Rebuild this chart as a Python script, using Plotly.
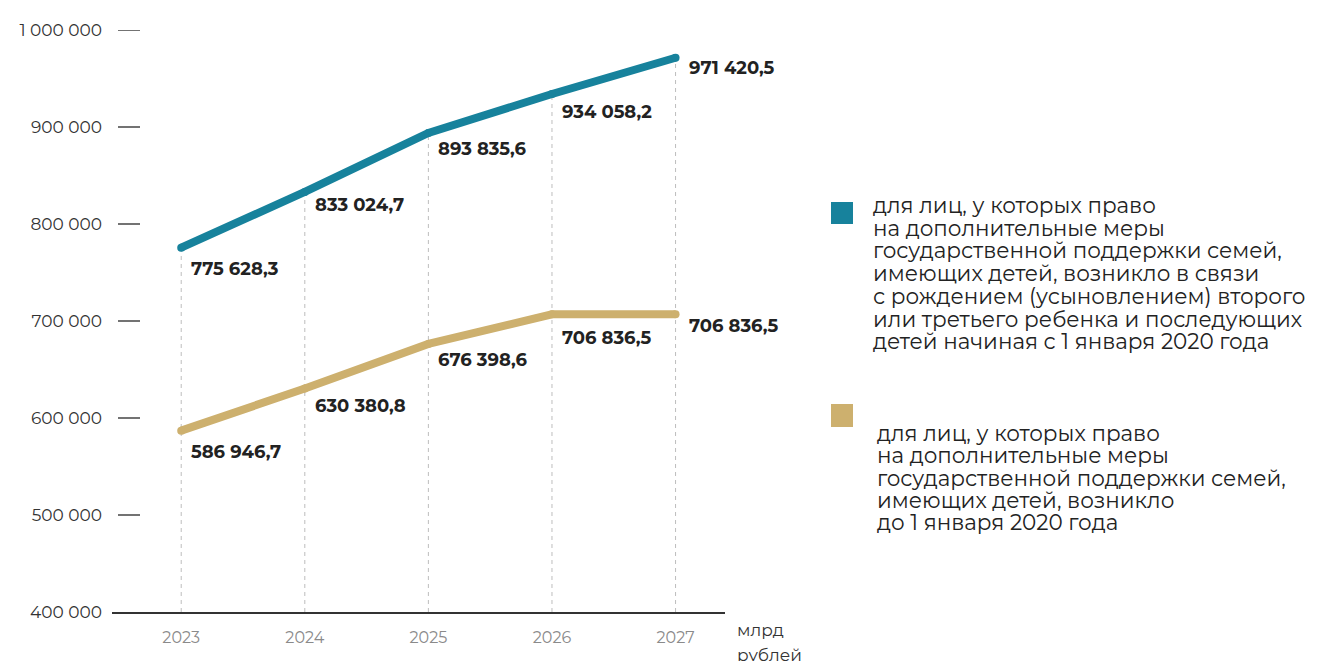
import plotly.graph_objects as go

years = [2023, 2024, 2025, 2026, 2027]
after_2020 = [775628.3, 833024.7, 893835.6, 934058.2, 971420.5]
before_2020 = [586946.7, 630380.8, 676398.6, 706836.5, 706836.5]
y_ticks = [400000, 500000, 600000, 700000, 800000, 900000, 1000000]
y_tick_labels = ["400 000", "500 000", "600 000", "700 000", "800 000", "900 000", "1 000 000"]
legend_after = ["для лиц, у которых право",
                "на дополнительные меры",
                "государственной поддержки семей,",
                "имеющих детей, возникло в связи",
                "с рождением (усыновлением) второго",
                "или третьего ребенка и последующих",
                "детей начиная с 1 января 2020 года"]
legend_before = ["для лиц, у которых право",
                 "на дополнительные меры",
                 "государственной поддержки семей,",
                 "имеющих детей, возникло",
                 "до 1 января 2020 года"]
unit_label = ["млрд", "рублей"]

BLUE = "#17829c"
GOLD = "#cdb06e"
FONT = "Montserrat, 'DejaVu Sans', sans-serif"

def fmt(v):
    return f"{v:,.1f}".replace(",", " ").replace(".", ",")

OFF = 8  # page body margin
W, H = 1304, 653
L, R, T, B = 104, 587, 22, 49
pw, ph = W - L - R, H - T - B

def px(page_x):
    return (page_x - OFF - L) / pw

def py(page_y):
    return (H - B - (page_y - OFF)) / ph

fig = go.Figure()

# dashed vertical guides
for x, v in zip(years, after_2020):
    fig.add_trace(go.Scatter(x=[x, x], y=[y_ticks[0], v], mode="lines",
                             line=dict(color="#bdbdbd", width=1, dash="4px,4px"),
                             hoverinfo="skip", showlegend=False))

fig.add_trace(go.Scatter(x=years, y=before_2020, mode="lines+markers",
                         line=dict(color=GOLD, width=8), marker=dict(size=8, color=GOLD),
                         showlegend=False))
fig.add_trace(go.Scatter(x=years, y=after_2020, mode="lines+markers",
                         line=dict(color=BLUE, width=8), marker=dict(size=8, color=BLUE),
                         showlegend=False))

blue_shift = [-21, -13, -16, -18, -10]
gold_shift = [-21, -17, -16, -24, -12]
x_shift = [8, 8, 8, 8, 11]
for i, x in enumerate(years):
    for v, ys in ((after_2020[i], blue_shift[i]), (before_2020[i], gold_shift[i])):
        fig.add_annotation(x=x, y=v, text="<b>" + fmt(v) + "</b>", showarrow=False,
                           xanchor="left", yanchor="middle", xshift=x_shift[i], yshift=ys,
                           font=dict(family=FONT, size=18, color="#222222"))

# y tick dashes
for t in y_ticks[1:]:
    fig.add_shape(type="line", xref="paper", yref="y", x0=px(118), x1=px(140), y0=t, y1=t,
                  line=dict(color="#444444", width=1.5))

# legend
fig.add_shape(type="rect", xref="paper", yref="paper", x0=px(831), x1=px(853), y0=py(224), y1=py(202),
              fillcolor=BLUE, line=dict(width=0))
fig.add_shape(type="rect", xref="paper", yref="paper", x0=px(831), x1=px(853), y0=py(427), y1=py(404),
              fillcolor=GOLD, line=dict(width=0))
for k, line in enumerate(legend_after):
    fig.add_annotation(xref="paper", yref="paper", x=px(871), y=py(205 + 22.7 * k), text=line,
                       showarrow=False, xanchor="left", yanchor="middle", align="left",
                       font=dict(family=FONT, size=21.5, color="#222222"))
for k, line in enumerate(legend_before):
    fig.add_annotation(xref="paper", yref="paper", x=px(875), y=py(433 + 22.3 * k), text=line,
                       showarrow=False, xanchor="left", yanchor="middle", align="left",
                       font=dict(family=FONT, size=21.5, color="#222222"))
for k, line in enumerate(unit_label):
    fig.add_annotation(xref="paper", yref="paper", x=px(735), y=py(630 + 25 * k), text=line,
                       showarrow=False, xanchor="left", yanchor="middle", align="left",
                       font=dict(family=FONT, size=17, color="#333333"))

fig.update_layout(
    width=W, height=H, margin=dict(l=L, r=R, t=T, b=B),
    paper_bgcolor="white", plot_bgcolor="white",
    font=dict(family=FONT),
    xaxis=dict(range=[2022.44, 2027.40], tickvals=years, ticktext=[str(y) for y in years],
               showgrid=False, zeroline=False, showline=True, linecolor="#333333", linewidth=1.5,
               ticks="", ticklabelstandoff=10, automargin=False,
               tickfont=dict(family=FONT, size=16, color="#8a8a8a")),
    yaxis=dict(range=[y_ticks[0], y_ticks[-1]], tickvals=y_ticks, ticktext=y_tick_labels,
               showgrid=False, zeroline=False, showline=False, ticks="", ticklabelstandoff=9,
               automargin=False, tickfont=dict(family=FONT, size=17, color="#333333")),
)

fig.write_html("out.html")
